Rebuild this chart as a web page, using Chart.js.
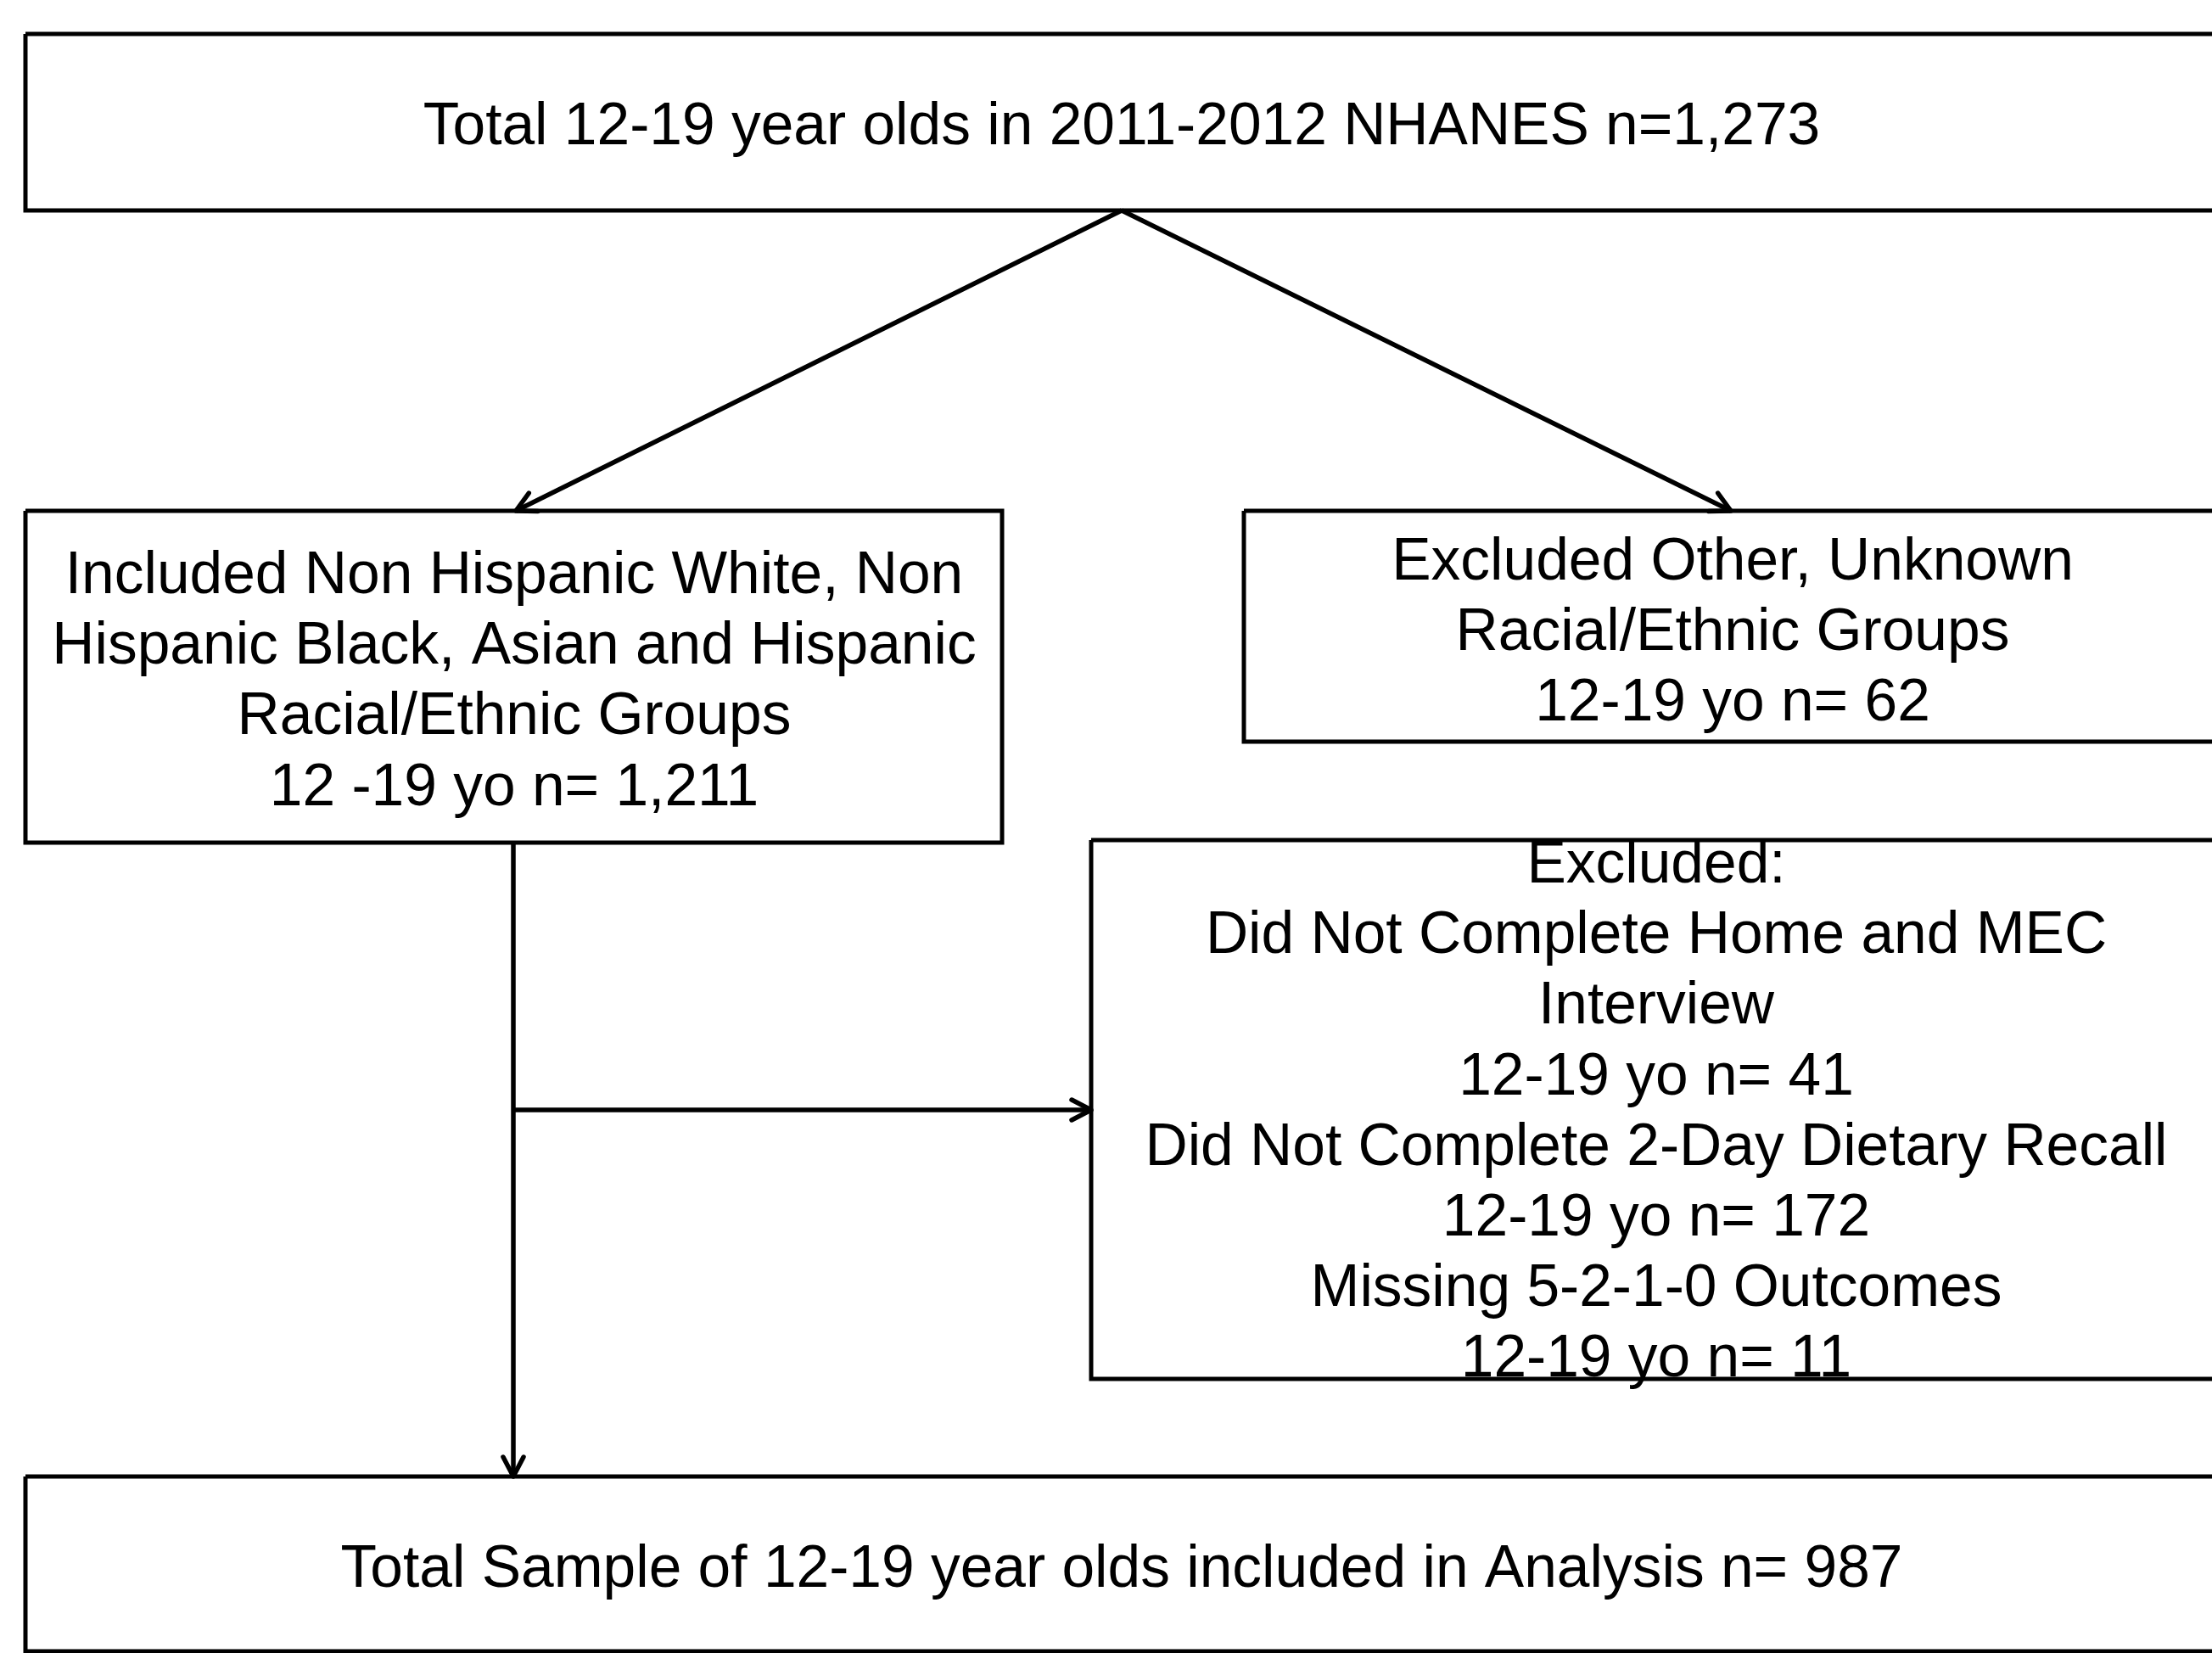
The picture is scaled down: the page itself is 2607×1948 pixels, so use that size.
<!DOCTYPE html>
<html>
<head>
<meta charset="utf-8">
<script src="https://cdn.jsdelivr.net/npm/chart.js@4"></script>
<style>
  html, body { margin: 0; padding: 0; background: #fff; }
  #wrap { width: 2607px; height: 1948px; }
</style>
</head>
<body>
<div id="wrap"><canvas id="flow" width="2607" height="1948"></canvas></div>
<script>
// counts
const totalCount = 1273;
const includedCount = 1211;
const excludedRaceCount = 62;
const noInterviewCount = 41;
const noRecallCount = 172;
const missingOutcomeCount = 11;
const finalCount = 987;

const fmt = n => n.toLocaleString("en-US");

// text of each box, one entry per line
const topLines = [`Total 12-19 year olds in 2011-2012 NHANES n=${fmt(totalCount)}`];
const includedLines = [
    "Included Non Hispanic White, Non",
    "Hispanic Black, Asian and Hispanic",
    "Racial/Ethnic Groups",
    `12 -19 yo n= ${fmt(includedCount)}`
];
const excludedRaceLines = [
    "Excluded Other, Unknown",
    "Racial/Ethnic Groups",
    `12-19 yo n= ${fmt(excludedRaceCount)}`
];
const excludedLines = [
    "Excluded:",
    "Did Not Complete Home and MEC",
    "Interview",
    `12-19 yo n= ${fmt(noInterviewCount)}`,
    "Did Not Complete 2-Day Dietary Recall",
    `12-19 yo n= ${fmt(noRecallCount)}`,
    "Missing 5-2-1-0 Outcomes",
    `12-19 yo n= ${fmt(missingOutcomeCount)}`
];
const finalLines = [`Total Sample of 12-19 year olds included in Analysis n= ${fmt(finalCount)}`];

// layout (in axis units, same as the page's pixels)
const W = 2607, H = 1948;
const boxes = [
    { x0: 30, y0: 40, x1: 2615, y1: 248, cx: 1322, base: 170, lines: topLines },
    { x0: 30, y0: 602, x1: 1181, y1: 993, cx: 606, base: 699, lines: includedLines },
    { x0: 1466, y0: 602, x1: 2618, y1: 874, cx: 2042, base: 683, lines: excludedRaceLines },
    { x0: 1286, y0: 990, x1: 2619, y1: 1625, cx: 1952, base: 1040, lines: excludedLines },
    { x0: 30, y0: 1740, x1: 2615, y1: 1946, cx: 1322, base: 1870, lines: finalLines }
];
const lineStep = 83.2;

const arrows = [
    [{ x: 1322, y: 248 }, { x: 608, y: 602 }],
    [{ x: 1322, y: 248 }, { x: 2040, y: 602 }],
    [{ x: 605, y: 993 }, { x: 605, y: 1740 }],
    [{ x: 605, y: 1308 }, { x: 1286, y: 1308 }]
];

const lineStyle = {
    showLine: true,
    borderColor: "#000",
    borderWidth: 5,
    pointRadius: 0,
    pointHoverRadius: 0,
    fill: false,
    tension: 0,
    borderJoinStyle: "miter",
    clip: false
};

const datasets = [];
boxes.forEach(b => {
    datasets.push(Object.assign({}, lineStyle, {
        data: [
            { x: b.x0, y: b.y0 }, { x: b.x1, y: b.y0 }, { x: b.x1, y: b.y1 },
            { x: b.x0, y: b.y1 }, { x: b.x0, y: b.y0 }
        ]
    }));
});
arrows.forEach(a => {
    datasets.push(Object.assign({}, lineStyle, { data: a, isArrow: true, borderWidth: 5.5 }));
});

const flowPlugin = {
    id: "flowText",
    afterDatasetsDraw(chart) {
        const ctx = chart.ctx;
        const xs = chart.scales.x, ys = chart.scales.y;

        // arrow heads at the end of each connector
        ctx.save();
        ctx.strokeStyle = "#000";
        ctx.lineWidth = 5.5;
        ctx.lineCap = "round";
        ctx.lineJoin = "round";
        chart.data.datasets.forEach((ds, i) => {
            if (!ds.isArrow) return;
            const pts = chart.getDatasetMeta(i).data;
            const p1 = pts[pts.length - 2], p2 = pts[pts.length - 1];
            const ang = Math.atan2(p2.y - p1.y, p2.x - p1.x);
            const len = 23, half = 12;
            const bx = p2.x - len * Math.cos(ang), by = p2.y - len * Math.sin(ang);
            const nx = -Math.sin(ang), ny = Math.cos(ang);
            ctx.beginPath();
            ctx.moveTo(bx + half * nx, by + half * ny);
            ctx.lineTo(p2.x, p2.y);
            ctx.lineTo(bx - half * nx, by - half * ny);
            ctx.stroke();
        });
        ctx.restore();

        // box texts
        ctx.save();
        ctx.fillStyle = "#000";
        ctx.font = '69.5px "Liberation Sans", Arial, sans-serif';
        ctx.textAlign = "center";
        ctx.textBaseline = "alphabetic";
        boxes.forEach(b => {
            b.lines.forEach((t, k) => {
                ctx.fillText(t, xs.getPixelForValue(b.cx), ys.getPixelForValue(b.base + k * lineStep));
            });
        });
        ctx.restore();
    }
};

new Chart(document.getElementById("flow").getContext("2d"), {
    type: "scatter",
    data: { datasets: datasets },
    options: {
        responsive: false,
        animation: false,
        events: [],
        layout: { padding: 0, autoPadding: false },
        plugins: { legend: { display: false }, tooltip: { enabled: false } },
        scales: {
            x: { type: "linear", min: 0, max: W, display: false },
            y: { type: "linear", min: 0, max: H, reverse: true, display: false }
        }
    },
    plugins: [flowPlugin]
});
</script>
</body>
</html>
